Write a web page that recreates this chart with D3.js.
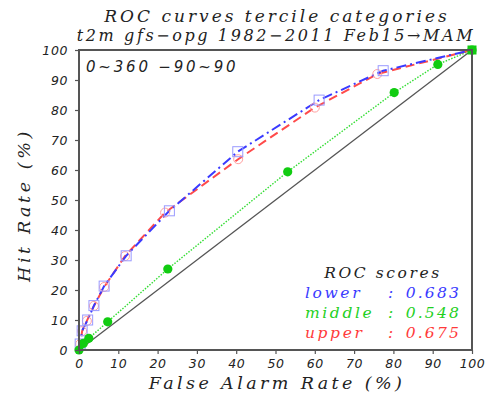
<!DOCTYPE html>
<html><head><meta charset="utf-8">
<script src="https://cdn.jsdelivr.net/npm/d3@7"></script>
<style>body{margin:0;background:#fff}svg{display:block}</style>
</head><body>
<script>
const xTicks = [0,10,20,30,40,50,60,70,80,90,100];
const yTicks = [0,10,20,30,40,50,60,70,80,90,100];
const lowerFAR = [0,0.3,0.8,2.2,3.8,6.4,12,23,40.4,61.1,77.4,100];
const lowerHR  = [0,2,6.4,10,14.8,21.3,31.4,46.4,66.1,83.3,93.1,100];
const upperFAR = [0,0.3,0.8,2.0,3.8,6.4,11.7,21.9,40.5,60,75.9,100];
const upperHR  = [0,2,6.3,9.7,14.7,21,31.3,45.8,63.6,80.8,92,100];
const middleFAR = [0,1.1,2.5,7.3,22.6,53.1,80.2,91.3,100];
const middleHR  = [0,2.2,3.9,9.4,27,59.4,85.8,95.2,100];
const scoreNames = ["lower","middle","upper"];
const scoreValues = ["0.683","0.548","0.675"];
const scoreColors = ["#3a3aff","#1fd01f","#ff3a3a"];

const W=489,H=397;
const svg=d3.select("body").append("svg").attr("width",W).attr("height",H);
const x=d3.scaleLinear().domain([0,100]).range([79,472]);
const y=d3.scaleLinear().domain([0,100]).range([350,50]);
const serif="'DejaVu Serif', serif";

// titles
svg.append("text").attr("x",277).attr("y",22).attr("text-anchor","middle")
 .attr("font-family",serif).attr("font-style","italic").attr("font-size",17)
 .attr("letter-spacing",3).attr("fill","#222").text("ROC curves tercile categories");
svg.append("text").attr("x",276).attr("y",41).attr("text-anchor","middle")
 .attr("font-family",serif).attr("font-style","italic").attr("font-size",16)
 .attr("letter-spacing",2.6).attr("fill","#222").text("t2m gfs\u2212opg 1982\u22122011 Feb15\u2192MAM");

// diagonal
svg.append("line").attr("x1",x(0)).attr("y1",y(0)).attr("x2",x(100)).attr("y2",y(100))
 .attr("stroke","#555").attr("stroke-width",1.3);

const line=d3.line();
function pts(a,b){return a.map((v,i)=>[x(v),y(b[i])]);}

// middle (green dotted)
svg.append("path").attr("d",line(pts(middleFAR,middleHR))).attr("fill","none")
 .attr("stroke","#33dd33").attr("stroke-width",1.4).attr("stroke-dasharray","1.5,1.5");
// upper (red dashed)
svg.append("path").attr("d",line(pts(upperFAR,upperHR))).attr("fill","none")
 .attr("stroke","#ff4a4a").attr("stroke-width",2).attr("stroke-dasharray","9,5");
// lower (blue dash-dot)
svg.append("path").attr("d",line(pts(lowerFAR,lowerHR))).attr("fill","none")
 .attr("stroke","#3a3aff").attr("stroke-width",2).attr("stroke-dasharray","10,4,2,4");

// markers
svg.append("g").selectAll("circle").data(pts(upperFAR,upperHR).slice(1,-1)).join("circle")
 .attr("cx",d=>d[0]).attr("cy",d=>d[1]).attr("r",4.5).attr("fill","none")
 .attr("stroke","#ffa0a0").attr("stroke-width",1);
svg.append("g").selectAll("rect").data(pts(lowerFAR,lowerHR).slice(1,-1)).join("rect")
 .attr("x",d=>d[0]-5).attr("y",d=>d[1]-5).attr("width",10).attr("height",10).attr("fill","none")
 .attr("stroke","#9a9aff").attr("stroke-width",1);
svg.append("g").selectAll("circle").data(pts(middleFAR,middleHR)).join("circle")
 .attr("cx",d=>d[0]).attr("cy",d=>d[1]).attr("r",4.6).attr("fill","#11cc11");
svg.append("rect").attr("x",x(100)-4.5).attr("y",y(100)-4.5).attr("width",9).attr("height",9).attr("fill","#11cc11");

// frame
svg.append("rect").attr("x",x(0)).attr("y",y(100)).attr("width",x(100)-x(0)).attr("height",y(0)-y(100))
 .attr("fill","none").attr("stroke","#555").attr("stroke-width",2);

// axes
const tickFont="'DejaVu Sans', sans-serif";
const xa=svg.append("g").attr("transform",`translate(0,${y(0)})`)
 .call(d3.axisBottom(x).tickValues(xTicks).tickSize(4).tickSizeOuter(0).tickPadding(5));
const ya=svg.append("g").attr("transform",`translate(${x(0)},0)`)
 .call(d3.axisLeft(y).tickValues(yTicks).tickSize(4).tickSizeOuter(0).tickPadding(7));
[xa,ya].forEach(g=>{g.select(".domain").remove();
 g.selectAll("line").attr("stroke","#555").attr("stroke-width",1.2);
 g.selectAll("text").attr("font-family",tickFont).attr("font-style","italic").attr("font-size",12.5)
  .attr("letter-spacing",0.6).attr("fill","#222");});
ya.selectAll("text").attr("dy","0.35em");

// axis titles
svg.append("text").attr("x",277).attr("y",389).attr("text-anchor","middle")
 .attr("font-family",serif).attr("font-style","italic").attr("font-size",17.5)
 .attr("letter-spacing",3.4).attr("fill","#222").text("False Alarm Rate (%)");
svg.append("text").attr("transform","translate(30,205) rotate(-90)").attr("text-anchor","middle")
 .attr("font-family",serif).attr("font-style","italic").attr("font-size",17.5)
 .attr("letter-spacing",3.6).attr("fill","#222").text("Hit Rate (%)");

// region label
svg.append("text").attr("x",86).attr("y",72)
 .attr("font-family",tickFont).attr("font-style","italic").attr("font-size",15)
 .attr("letter-spacing",2.8).attr("fill","#222").text("0~360  \u221290~90");

// scores legend
svg.append("text").attr("x",383).attr("y",278).attr("text-anchor","middle")
 .attr("font-family",serif).attr("font-style","italic").attr("font-size",15.5)
 .attr("letter-spacing",2.6).attr("fill","#222").text("ROC scores");
scoreNames.forEach((n,i)=>{
 const yy=298+i*20;
 svg.append("text").attr("x",305).attr("y",yy).attr("font-family",serif).attr("font-style","italic")
  .attr("font-size",15.5).attr("letter-spacing",2.6).attr("fill",scoreColors[i]).text(n);
 svg.append("text").attr("x",388).attr("y",yy).attr("font-family",serif).attr("font-style","italic")
  .attr("font-size",15.5).attr("fill",scoreColors[i]).text(":");
 svg.append("text").attr("x",461).attr("y",yy).attr("text-anchor","end").attr("font-family",serif).attr("font-style","italic")
  .attr("font-size",15.5).attr("letter-spacing",2.2).attr("fill",scoreColors[i]).text(scoreValues[i]);
});
</script>
</body></html>
